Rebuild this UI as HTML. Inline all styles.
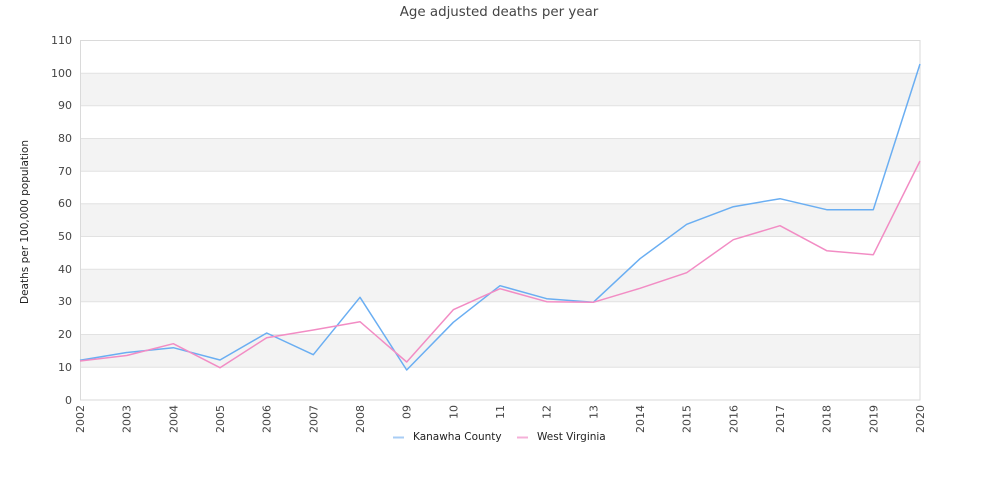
<!DOCTYPE html>
<html>
<head>
<meta charset="utf-8">
<style>
  html, body { margin:0; padding:0; background:#fff; }
  body { width:1000px; height:500px; overflow:hidden; }
  svg { display:block; font-family:"DejaVu Sans","Liberation Sans",sans-serif; }
</style>
</head>
<body>
<svg width="1000" height="500" viewBox="0 0 1000 500" xmlns="http://www.w3.org/2000/svg">
  <rect x="0" y="0" width="1000" height="500" fill="#fff"/>
  <!-- title -->
  <text x="499" y="16" text-anchor="middle" font-size="13.4" fill="#444">Age adjusted deaths per year</text>

  <!-- bands -->
  <g fill="#f3f3f3">
    <rect x="80" y="73" width="840" height="32.7"/>
    <rect x="80" y="138.2" width="840" height="32.7"/>
    <rect x="80" y="203.6" width="840" height="32.7"/>
    <rect x="80" y="269" width="840" height="32.7"/>
    <rect x="80" y="334.5" width="840" height="32.7"/>
  </g>
  <!-- grid lines -->
  <g stroke="#e2e2e2" stroke-width="1">
    <line x1="80" y1="73.2" x2="920" y2="73.2"/>
    <line x1="80" y1="105.8" x2="920" y2="105.8"/>
    <line x1="80" y1="138.5" x2="920" y2="138.5"/>
    <line x1="80" y1="171.2" x2="920" y2="171.2"/>
    <line x1="80" y1="203.8" x2="920" y2="203.8"/>
    <line x1="80" y1="236.5" x2="920" y2="236.5"/>
    <line x1="80" y1="269.2" x2="920" y2="269.2"/>
    <line x1="80" y1="301.8" x2="920" y2="301.8"/>
    <line x1="80" y1="334.5" x2="920" y2="334.5"/>
    <line x1="80" y1="367.2" x2="920" y2="367.2"/>
  </g>
  <!-- plot border -->
  <rect x="80.5" y="40.5" width="839.5" height="359.5" fill="none" stroke="#dadada" stroke-width="1"/>

  <!-- y tick labels -->
  <g font-size="11" fill="#444" text-anchor="end">
    <text x="72" y="44">110</text>
    <text x="72" y="77">100</text>
    <text x="72" y="109">90</text>
    <text x="72" y="142">80</text>
    <text x="72" y="175">70</text>
    <text x="72" y="207">60</text>
    <text x="72" y="240">50</text>
    <text x="72" y="273">40</text>
    <text x="72" y="305">30</text>
    <text x="72" y="338">20</text>
    <text x="72" y="371">10</text>
    <text x="72" y="404">0</text>
  </g>
  <!-- y axis title -->
  <text transform="translate(28,222) rotate(-90)" text-anchor="middle" font-size="10.5" fill="#222">Deaths per 100,000 population</text>

  <!-- x tick labels -->
  <g font-size="11" fill="#444" text-anchor="end">
    <text transform="translate(84,405) rotate(-90)">2002</text>
    <text transform="translate(130.7,405) rotate(-90)">2003</text>
    <text transform="translate(177.3,405) rotate(-90)">2004</text>
    <text transform="translate(224,405) rotate(-90)">2005</text>
    <text transform="translate(270.7,405) rotate(-90)">2006</text>
    <text transform="translate(317.3,405) rotate(-90)">2007</text>
    <text transform="translate(364,405) rotate(-90)">2008</text>
    <text transform="translate(410.7,405) rotate(-90)">09</text>
    <text transform="translate(457.3,405) rotate(-90)">10</text>
    <text transform="translate(504,405) rotate(-90)">11</text>
    <text transform="translate(550.7,405) rotate(-90)">12</text>
    <text transform="translate(597.3,405) rotate(-90)">13</text>
    <text transform="translate(644,405) rotate(-90)">2014</text>
    <text transform="translate(690.7,405) rotate(-90)">2015</text>
    <text transform="translate(737.3,405) rotate(-90)">2016</text>
    <text transform="translate(784,405) rotate(-90)">2017</text>
    <text transform="translate(830.7,405) rotate(-90)">2018</text>
    <text transform="translate(877.3,405) rotate(-90)">2019</text>
    <text transform="translate(924,405) rotate(-90)">2020</text>
  </g>

  <!-- series -->
  <polyline fill="none" stroke="#6aaef2" stroke-width="1.5" stroke-linejoin="round"
    points="80,360.3 126.7,352.5 173.3,347.7 220,360 266.7,333 313.3,354.7 360,297.3 406.7,370 453.3,322.3 500,285.7 546.7,298.7 593.3,302.3 640,258.7 686.7,224.3 733.3,206.7 780,198.7 826.7,209.7 873.3,209.7 920,64"/>
  <polyline fill="none" stroke="#f28cc4" stroke-width="1.5" stroke-linejoin="round"
    points="80,361 126.7,355.5 173.3,343.7 220,367.7 266.7,337.7 313.3,330 360,321.7 406.7,362 453.3,309.7 500,288.7 546.7,301.7 593.3,302.3 640,288.3 686.7,272.7 733.3,239.7 780,225.7 826.7,250.7 873.3,254.7 920,161"/>

  <!-- legend -->
  <line x1="393" y1="437.5" x2="404" y2="437.5" stroke="#a8cdf5" stroke-width="2"/>
  <text x="413" y="440" font-size="10.5" fill="#222">Kanawha County</text>
  <line x1="517" y1="437.5" x2="528" y2="437.5" stroke="#f5b0d8" stroke-width="2"/>
  <text x="537" y="440" font-size="10.5" fill="#222">West Virginia</text>
</svg>
</body>
</html>
